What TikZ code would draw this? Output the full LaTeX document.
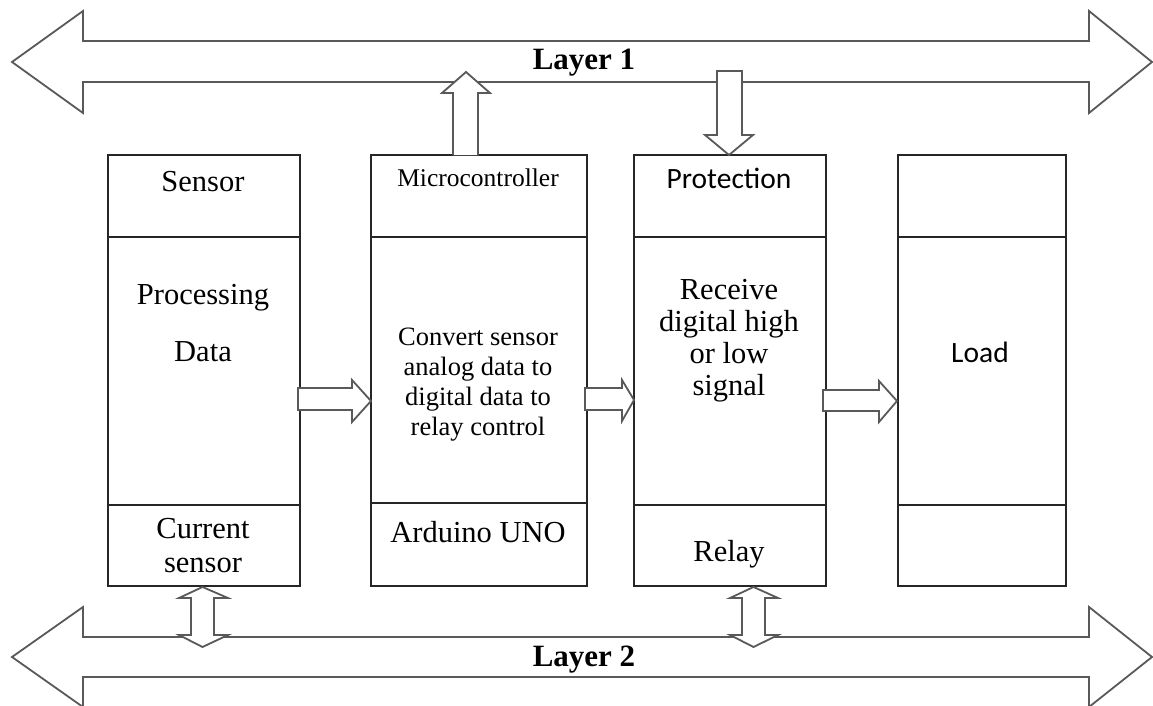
\documentclass[tikz,border=0pt]{standalone}
\usepackage{fontspec}
\setmainfont{Liberation Serif}
\newfontfamily\calib{Carlito}
\usetikzlibrary{calc}
\begin{document}
\begin{tikzpicture}[x=1pt,y=-1pt,
  box/.style={draw=black!85,line width=1.6pt,minimum width=#1,minimum height=431,inner sep=0pt},
  divline/.style={draw=black!85,line width=1.6pt},
  blk/.style={draw=black!65,line width=1.8pt,fill=white,line join=miter},
  lbl/.style={anchor=base,inner sep=0pt,font=\fontsize{30.5}{32}\selectfont},
  slbl/.style={anchor=base,inner sep=0pt,font=\calib\fontsize{29.5}{32}\selectfont},
  mlbl/.style={anchor=base,inner sep=0pt,font=\fontsize{26.5}{30}\selectfont},
  lay/.style={anchor=base,inner sep=0pt,font=\bfseries\fontsize{31}{32}\selectfont}]
\useasboundingbox[fill=white] (0,0) rectangle (1153,706);

% Layer arrows
\draw[blk] (12,62) -- (83,11) -- (83,41) -- (1089,41) -- (1089,11) -- (1152,62) -- (1089,113) -- (1089,82) -- (83,82) -- (83,113) -- cycle;
\draw[blk] (12,657) -- (83,607) -- (83,637) -- (1089,637) -- (1089,607) -- (1152,657) -- (1089,707) -- (1089,677) -- (83,677) -- (83,707) -- cycle;
\node[lay] (l1) at (584,70) {Layer 1};
\node[lay] (l2) at (584,666) {Layer 2};

% Boxes
\node[box=192] (b1) at (204,370.5) {};
\node[box=216] (b2) at (479,370.5) {};
\node[box=192] (b3) at (730,370.5) {};
\node[box=168] (b4) at (982,370.5) {};
\foreach \b/\lo in {b1/505,b2/503,b3/505,b4/505}{
  \draw[divline] (\b.west |- 0,237) -- (\b.east |- 0,237);
  \draw[divline] (\b.west |- 0,\lo) -- (\b.east |- 0,\lo);
}

% Texts
\node[lbl] (t1) at (203,191) {Sensor};
\node[lbl] (t2) at (203,304) {Processing};
\node[lbl] (t3) at (203,361) {Data};
\node[lbl] (t4) at (203,538) {Current};
\node[lbl] (t5) at (203,572) {sensor};

\node[mlbl,font=\fontsize{25.5}{28}\selectfont] (m1) at (478,186) {Microcontroller};
\node[mlbl] (m2) at (478,345) {Convert sensor};
\node[mlbl] (m3) at (478,375) {analog data to};
\node[mlbl] (m4) at (478,405) {digital data to};
\node[mlbl] (m5) at (478,435) {relay control};
\node[lbl] (m6) at (478,542) {Arduino UNO};

\node[slbl] (p1) at (729,188) {Protection};
\node[lbl] (p2) at (729,299) {Receive};
\node[lbl] (p3) at (729,331) {digital high};
\node[lbl] (p4) at (729,363) {or low};
\node[lbl] (p5) at (729,395) {signal};
\node[lbl] (p6) at (729,561) {Relay};

\node[slbl] (d1) at (980,362) {Load};

% Block connectors
\draw[blk] (453,155) -- (453,93) -- (442,93) -- (466,72) -- (490,93) -- (478,93) -- (478,155);
\draw[blk] (717,71) -- (742,71) -- (742,135) -- (753,135) -- (729,155) -- (705,135) -- (717,135) -- cycle;
\draw[blk] (202.5,587) -- (228,598) -- (214,598) -- (214,635) -- (228,635) -- (202.5,647) -- (179,635) -- (191,635) -- (191,598) -- (179,598) -- cycle;
\draw[blk] (753.5,587) -- (778,598) -- (765,598) -- (765,635) -- (778,635) -- (753.5,647) -- (730,635) -- (742,635) -- (742,598) -- (730,598) -- cycle;
\draw[blk] (298,388) -- (352,388) -- (352,380) -- (371,401) -- (352,422) -- (352,410) -- (298,410) -- cycle;
\draw[blk] (585,388) -- (622,388) -- (622,380) -- (634,400) -- (622,421) -- (622,410) -- (585,410) -- cycle;
\draw[blk] (823,390) -- (879,390) -- (879,381) -- (897,401) -- (879,422) -- (879,411) -- (823,411) -- cycle;
\end{tikzpicture}
\end{document}
